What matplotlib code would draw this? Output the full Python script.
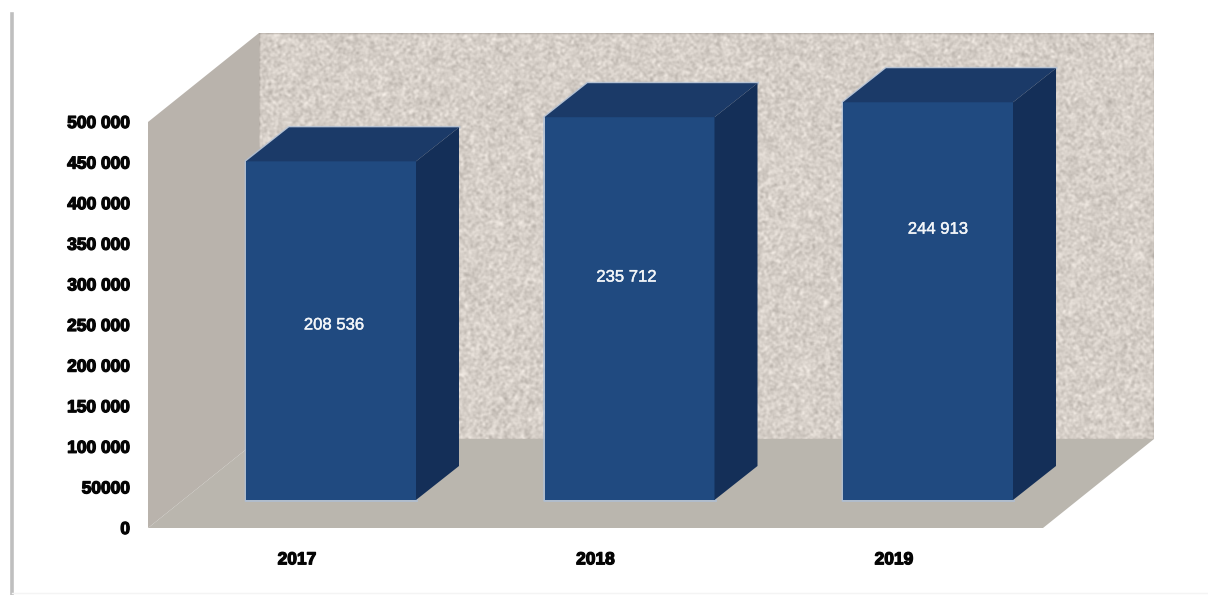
import numpy as np
import matplotlib
matplotlib.use("Agg")
import matplotlib.pyplot as plt
from matplotlib.patches import Polygon
from matplotlib.lines import Line2D
import matplotlib.patheffects as pe

# ---- data ----
years = ["2017", "2018", "2019"]
values = [208536, 235712, 244913]
value_labels = ["208 536", "235 712", "244 913"]
y_ticks = [0, 50000, 100000, 150000, 200000, 250000, 300000, 350000, 400000, 450000, 500000]
y_tick_labels = ["0", "50000", "100 000", "150 000", "200 000", "250 000", "300 000",
                 "350 000", "400 000", "450 000", "500 000"]

# The bars in the source are drawn twice as tall as their labels on the axis
BAR_SCALE = 2

# ---- layout (pixels of the 1208x595 figure) ----
W, H = 1208, 595
LEFT, RIGHT, TOP, BOTTOM = 148, 1154, 33, 528
CAT_PX = 298.5           # px per category
FIRST_CAT_PX = 297       # px of category 0 on the front plane
VAL_PX = 406 / 500000    # px per value unit

def dxc(px):
    return px / CAT_PX

def dyv(px):
    return px / VAL_PX

fig = plt.figure(figsize=(W / 100, H / 100), dpi=100, facecolor="white")
ax = fig.add_axes([LEFT / W, 1 - BOTTOM / H, (RIGHT - LEFT) / W, (BOTTOM - TOP) / H])
xmin = (LEFT - FIRST_CAT_PX) / CAT_PX
xmax = (RIGHT - FIRST_CAT_PX) / CAT_PX
ymax = dyv(BOTTOM - TOP)
ax.set_xlim(xmin, xmax)
ax.set_ylim(0, ymax)
ax.patch.set_alpha(0)
for s in ax.spines.values():
    s.set_visible(False)

# ---- walls and floor ----
WALL_DX, WALL_DY = dxc(111), dyv(89)
top_front = y_ticks[-1]

# speckled texture of the back wall (deterministic hash noise)
ny, nx = 406, 895
iy, ix = np.mgrid[0:ny, 0:nx]
noise = (np.sin(ix * 127.1 + iy * 311.7 + ix * iy * 0.013) * 43758.5453) % 1.0
k = np.array([1, 2, 2, 1]) / 6
noise = np.apply_along_axis(lambda r: np.convolve(r, k, mode="same"), 0, noise)
noise = np.apply_along_axis(lambda r: np.convolve(r, k, mode="same"), 1, noise)
noise = (noise - noise.mean()) / noise.std()
base = np.array([214, 207, 200], float)
tex = np.clip(base[None, None, :] + noise[..., None] * np.array([8, 8, 8]), 0, 255).astype(np.uint8)
ax.imshow(tex, extent=(xmin + WALL_DX, xmax, WALL_DY, ymax), aspect="auto",
          interpolation="nearest", zorder=1)
ax.set_xlim(xmin, xmax)
ax.set_ylim(0, ymax)

ax.add_patch(Polygon([(xmin, 0), (xmin + WALL_DX, WALL_DY), (xmin + WALL_DX, ymax),
                      (xmin, top_front)], closed=True, fc="#b9b3ac", ec="none", zorder=2))
ax.add_patch(Polygon([(xmin, 0), (xmax - WALL_DX, 0), (xmax, WALL_DY), (xmin + WALL_DX, WALL_DY)],
                     closed=True, fc="#bab6ae", ec="none", zorder=2))

# ---- bars ----
positions = np.arange(len(years))
SHIFT_X, SHIFT_Y = dxc(34), dyv(28)
HALF_W = dxc(85)
D_X, D_Y = dxc(43), dyv(34)
FRONT, TOPC, SIDE, HALO = "#204a80", "#1b3a68", "#142f58", "#aebfd6"

for p, v in zip(positions, values):
    h = v * BAR_SCALE
    x0 = p + SHIFT_X - HALF_W
    x1 = p + SHIFT_X + HALF_W
    y0 = SHIFT_Y
    y1 = SHIFT_Y + h
    ax.plot([x0, x0, x0 + D_X, x1 + D_X], [y0, y1, y1 + D_Y, y1 + D_Y],
            color=HALO, lw=2.0, solid_joinstyle="round", alpha=0.8, zorder=3)
    ax.plot([x0, x1], [y0, y0], color=HALO, lw=2.0, alpha=0.8, zorder=3)
    ax.bar(p + SHIFT_X, h, width=2 * HALF_W, bottom=y0, color=FRONT, linewidth=0, zorder=4)
    ax.add_patch(Polygon([(x0, y1), (x1, y1), (x1 + D_X, y1 + D_Y), (x0 + D_X, y1 + D_Y)],
                         closed=True, fc=TOPC, ec="none", zorder=4))
    ax.add_patch(Polygon([(x1, y0), (x1 + D_X, y0 + D_Y), (x1 + D_X, y1 + D_Y), (x1, y1)],
                         closed=True, fc=SIDE, ec="none", zorder=4))

# ---- value labels (placed where the source placed them, not at bar centres) ----
label_axis_heights = [250000, 309000, 368000]
label_px_shift = [3, -3, 10]
for p, y, dx, t in zip(positions, label_axis_heights, label_px_shift, value_labels):
    txt = ax.text(p + SHIFT_X + dxc(dx), y, t, color="#f2f5f8", ha="center", va="center",
                  fontsize=12, family="Liberation Sans", zorder=5)
    txt.set_path_effects([pe.withStroke(linewidth=0.3, foreground="#f2f5f8")])

# ---- ticks ----
ax.set_yticks(y_ticks)
ax.set_yticklabels(y_tick_labels, family="Liberation Sans", fontweight="bold",
                   fontsize=12.5, color="#050505")
ax.set_xticks(positions)
ax.set_xticklabels(years, family="Liberation Sans", fontweight="bold",
                   fontsize=12.5, color="#050505")
ax.tick_params(axis="y", length=0, pad=13)
ax.tick_params(axis="x", length=0, pad=17.5)
for lab in ax.get_xticklabels() + ax.get_yticklabels():
    lab.set_path_effects([pe.withStroke(linewidth=0.9, foreground="#050505")])

# ---- page border at the left and bottom ----
fig.add_artist(Line2D([12 / W, 12 / W], [0, 1 - 14 / H], color="#bfbfbf", lw=2.6))
fig.add_artist(Line2D([12 / W, 1], [1 - 593 / H, 1 - 593 / H], color="#f4f4f4", lw=1))

fig.savefig("out.png", dpi=100)
